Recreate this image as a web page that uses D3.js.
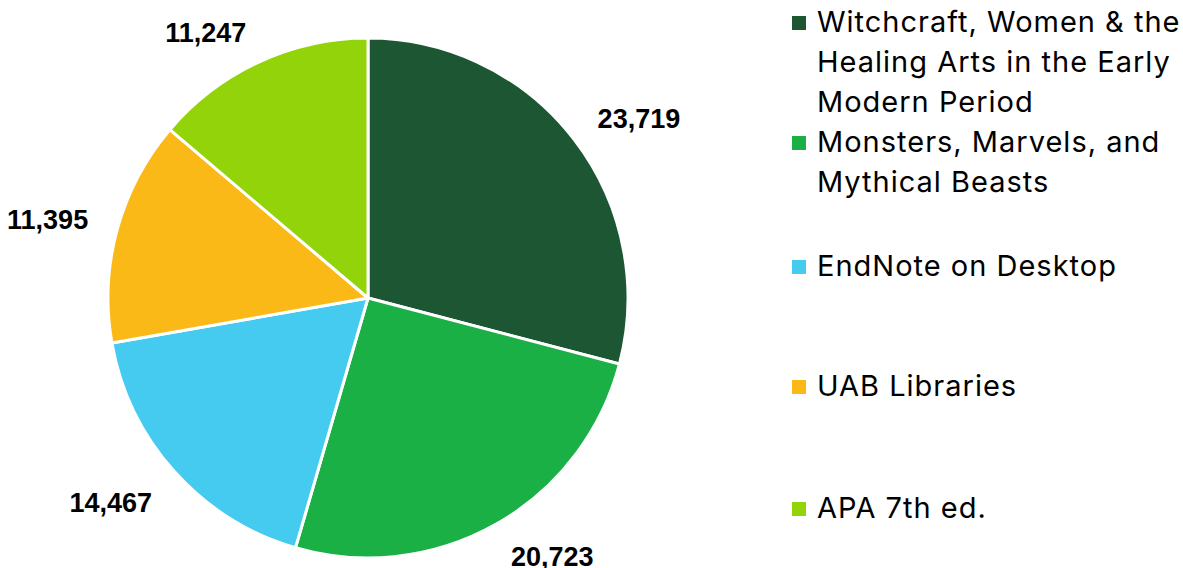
<!DOCTYPE html>
<html>
<head>
<meta charset="utf-8">
<script src="https://cdn.jsdelivr.net/npm/d3@7"></script>
<style>
  body { margin: 0; background: #fff; }
  svg { display: block; }
</style>
</head>
<body>
<svg></svg>
<script>
const categories = [
  'Witchcraft, Women & the Healing Arts in the Early Modern Period',
  'Monsters, Marvels, and Mythical Beasts',
  'EndNote on Desktop',
  'UAB Libraries',
  'APA 7th ed.',
];
const values = [23719, 20723, 14467, 11395, 11247];
const colors = ['#1c5632', '#1bb045', '#45caf0', '#fbb917', '#93d30a'];
// legend text broken into lines as in the picture
const legendLines = [
  ['Witchcraft, Women & the', 'Healing Arts in the Early', 'Modern Period'],
  ['Monsters, Marvels, and', 'Mythical Beasts'],
  ['EndNote on Desktop'],
  ['UAB Libraries'],
  ['APA 7th ed.'],
];

const width = 1183;
const height = 568;
const cx = 368, cy = 298, radius = 260, labelGap = 30;

const svg = d3.select('svg')
  .attr('width', width)
  .attr('height', height);

const data = categories.map((c, i) => ({ name: c, value: values[i], color: colors[i] }));

const pie = d3.pie()
  .sort(null)
  .value(d => d.value);

const arc = d3.arc().innerRadius(0).outerRadius(radius);

const g = svg.append('g').attr('transform', `translate(${cx},${cy})`);

const arcs = pie(data);

g.selectAll('path')
  .data(arcs)
  .enter()
  .append('path')
  .attr('d', arc)
  .attr('fill', d => d.data.color)
  .attr('stroke', '#fff')
  .attr('stroke-width', 3)
  .attr('stroke-linejoin', 'round');

// outside-end labels: box corner touches a circle just outside the pie
const fmt = d3.format(',');
const labels = g.selectAll('text.lbl')
  .data(arcs)
  .enter()
  .append('text')
  .attr('class', 'lbl')
  .attr('text-anchor', 'middle')
  .attr('dy', '0.5em')
  .style('font-family', '"Liberation Sans", Arial, sans-serif')
  .style('font-weight', 'bold')
  .style('font-size', '27px')
  .style('fill', '#000')
  .text(d => fmt(d.data.value));

labels.each(function(d) {
  const a = (d.startAngle + d.endAngle) / 2;
  const s = Math.sin(a), c = -Math.cos(a);
  const bb = this.getBBox();
  const r = radius + labelGap;
  let x = r * s + Math.sign(s) * bb.width / 2;
  let y = r * c + Math.sign(c) * bb.height / 2 * 0.45;
  y = Math.min(y, height - cy - 16);
  y = Math.max(y, -cy + 12);
  d3.select(this).attr('x', x).attr('y', y);
});

// legend
const legendY = [32, 152, 276, 396, 518];
const lineH = 40;
const legend = svg.append('g');
legendLines.forEach((lines, i) => {
  legend.append('rect')
    .attr('x', 792)
    .attr('y', legendY[i] - 16)
    .attr('width', 14)
    .attr('height', 14)
    .attr('fill', colors[i]);
  const t = legend.append('text')
    .attr('x', 817)
    .attr('y', legendY[i])
    .style('font-family', 'Inter, "Noto Sans", sans-serif')
    .style('font-size', '29px')
    .style('letter-spacing', '1px')
    .style('fill', '#000');
  lines.forEach((ln, j) => {
    t.append('tspan')
      .attr('x', 817)
      .attr('y', legendY[i] + j * lineH)
      .text(ln);
  });
});
</script>
</body>
</html>
